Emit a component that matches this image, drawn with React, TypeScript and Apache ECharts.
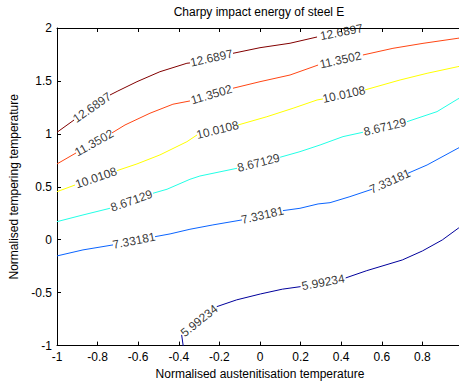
import React, { useEffect, useRef } from "react";
import * as echarts from "echarts";

type P = [number, number] | null;

// the tick at x = 1 falls just outside the picture, so it carries no visible label
const xTickLabels = ["-1", "-0.8", "-0.6", "-0.4", "-0.2", "0", "0.2", "0.4", "0.6", "0.8"];
const yTickLabels = ["-1", "-0.5", "0", "0.5", "1", "1.5", "2"];

const levelLabels = ["5.99234", "7.33181", "8.67129", "10.0108", "11.3502", "12.6897"];
const levelColors = ["#00009c", "#0a64ff", "#22ffe6", "#ffff00", "#ff4614", "#820000"];

// null marks a gap where the inline level label sits
const c5_99234: P[] = [
  [-0.377, -1.02], [-0.386, -0.899], null, [-0.213, -0.632], [-0.115, -0.568], [0.003, -0.512],
  [0.11, -0.467], [0.2, -0.443], null, [0.422, -0.361], [0.526, -0.292], [0.701, -0.191],
  [0.8, -0.106], [0.898, -0.002], [0.977, 0.109], [1.0, 0.14],
];
const c7_33181: P[] = [
  [-1.0, -0.153], [-0.872, -0.096], [-0.724, -0.049], null, [-0.517, 0.029], [-0.443, 0.055],
  [-0.345, 0.099], [-0.232, 0.14], [-0.089, 0.187], null, [0.113, 0.275], [0.197, 0.297],
  [0.286, 0.338], [0.345, 0.35], [0.443, 0.407], [0.552, 0.477], null, [0.729, 0.628],
  [0.823, 0.706], [0.975, 0.864], [1.0, 0.89],
];
const c8_67129: P[] = [
  [-1.0, 0.171], [-0.872, 0.234], [-0.739, 0.297], null, [-0.527, 0.439], [-0.458, 0.477],
  [-0.345, 0.571], [-0.296, 0.602], [-0.113, 0.675], null, [0.099, 0.779], [0.197, 0.832],
  [0.296, 0.895], [0.409, 0.974], [0.507, 1.015], null, [0.724, 1.115], [0.872, 1.21],
  [0.975, 1.33], [1.0, 1.35],
];
const c10_0108: P[] = [
  [-1.0, 0.454], [-0.911, 0.517], null, [-0.704, 0.653], [-0.606, 0.716], [-0.493, 0.801],
  [-0.36, 0.926], [-0.31, 0.99], null, [-0.108, 1.084], [0.034, 1.162], [0.163, 1.242],
  [0.281, 1.32], [0.31, 1.33], null, [0.517, 1.415], [0.69, 1.509], [0.823, 1.572],
  [0.975, 1.635], [1.0, 1.645],
];
const c11_3502: P[] = [
  [-1.0, 0.716], [-0.906, 0.82], null, [-0.729, 1.009], [-0.665, 1.084], [-0.542, 1.195],
  [-0.429, 1.28], [-0.345, 1.311], null, [-0.133, 1.431], [0.0, 1.493], [0.148, 1.556],
  [0.286, 1.65], null, [0.507, 1.745], [0.655, 1.808], [0.803, 1.855], [0.975, 1.903], [1.0, 1.91],
];
const c12_6897: P[] = [
  [-1.0, 1.015], [-0.916, 1.131], null, [-0.739, 1.367], [-0.7, 1.405], [-0.606, 1.493],
  [-0.493, 1.587], [-0.36, 1.667], [-0.345, 1.67], null, [-0.133, 1.761], [0.0, 1.814],
  [0.148, 1.856], [0.281, 1.915], null, [0.522, 2.005],
];

const contours: P[][] = [c5_99234, c7_33181, c8_67129, c10_0108, c11_3502, c12_6897];

const FONT = "'Liberation Sans', Arial, Helvetica, sans-serif";
const FS = 12;

function split(points: P[]) {
  const segs: [number, number][][] = [[]];
  const gaps: [[number, number], [number, number]][] = [];
  points.forEach((p, i) => {
    if (p === null) {
      gaps.push([points[i - 1] as [number, number], points[i + 1] as [number, number]]);
      segs.push([]);
    } else {
      segs[segs.length - 1].push(p);
    }
  });
  return { segs, gaps };
}

export default function App() {
  const ref = useRef<HTMLDivElement>(null);
  useEffect(() => {
    if (!ref.current) return;
    const chart = echarts.init(ref.current, undefined, { renderer: "svg" });
    const parts = contours.map(split);
    const lineSeries: any[] = [];
    parts.forEach((pt, li) => {
      pt.segs.forEach((seg) => {
        if (seg.length < 2) return;
        lineSeries.push({
          type: "line",
          data: seg,
          showSymbol: false,
          symbol: "none",
          clip: true,
          silent: true,
          lineStyle: { color: levelColors[li], width: 1 },
          z: 2,
        });
      });
    });
    const axisCommon = {
      type: "value",
      axisLine: { show: true, onZero: false, lineStyle: { color: "#000", width: 1 } },
      axisTick: { show: true, inside: true, length: 4, lineStyle: { color: "#000" } },
      splitLine: { show: false },
    };
    chart.setOption({
      animation: false,
      backgroundColor: "#fff",
      grid: {
        left: 57,
        top: 28,
        width: 406,
        height: 317.6,
        containLabel: false,
        outerBoundsMode: "none",
      },
      graphic: [
        {
          type: "text",
          x: 259,
          y: 12,
          style: {
            text: "Charpy impact energy of steel E",
            fill: "#000",
            font: `${FS}px ${FONT}`,
            textAlign: "center",
            textVerticalAlign: "middle",
          },
        },
      ],
      xAxis: [
        {
          ...axisCommon,
          min: -1,
          max: 1,
          interval: 0.2,
          position: "bottom",
          name: "Normalised austenitisation temperature",
          nameLocation: "middle",
          nameGap: 20,
          nameTextStyle: { color: "#000", fontSize: FS, fontFamily: FONT },
          axisLabel: {
            color: "#000",
            fontSize: FS,
            fontFamily: FONT,
            margin: 5,
            formatter: (v: number) => xTickLabels[Math.round((v + 1) / 0.2)] ?? "",
          },
        },
        {
          ...axisCommon,
          min: -1,
          max: 1,
          interval: 0.2,
          position: "top",
          axisLabel: { show: false },
        },
      ],
      yAxis: [
        {
          ...axisCommon,
          min: -1,
          max: 2,
          interval: 0.5,
          position: "left",
          name: "Normalised tempering temperature",
          nameLocation: "middle",
          nameGap: 33,
          nameTextStyle: { color: "#000", fontSize: FS, fontFamily: FONT },
          axisLabel: {
            color: "#000",
            fontSize: FS,
            fontFamily: FONT,
            margin: 5,
            formatter: (v: number) => yTickLabels[Math.round((v + 1) / 0.5)] ?? "",
          },
        },
      ],
      series: lineSeries,
    });

    const labelData: any[] = [];
    parts.forEach((pt, li) => {
      pt.gaps.forEach(([a, b]) => {
        const pa = chart.convertToPixel({ gridIndex: 0 }, a) as number[];
        const pb = chart.convertToPixel({ gridIndex: 0 }, b) as number[];
        const ang = (-Math.atan2(pb[1] - pa[1], pb[0] - pa[0]) * 180) / Math.PI;
        labelData.push({
          value: [(a[0] + b[0]) / 2, (a[1] + b[1]) / 2],
          name: levelLabels[li],
          label: { rotate: ang },
        });
      });
    });
    chart.setOption({
      series: [
        ...lineSeries,
        {
          type: "scatter",
          data: labelData,
          symbolSize: 0,
          silent: true,
          clip: false,
          z: 5,
          label: {
            show: true,
            position: "inside",
            color: "#000",
            fontSize: FS,
            fontFamily: FONT,
            formatter: (p: any) => p.name,
          },
        },
      ],
    });

    return () => chart.dispose();
  }, []);
  return (
    <div
      ref={ref}
      style={{ position: "absolute", left: 0, top: 0, width: 459, height: 383, background: "#fff" }}
    />
  );
}
